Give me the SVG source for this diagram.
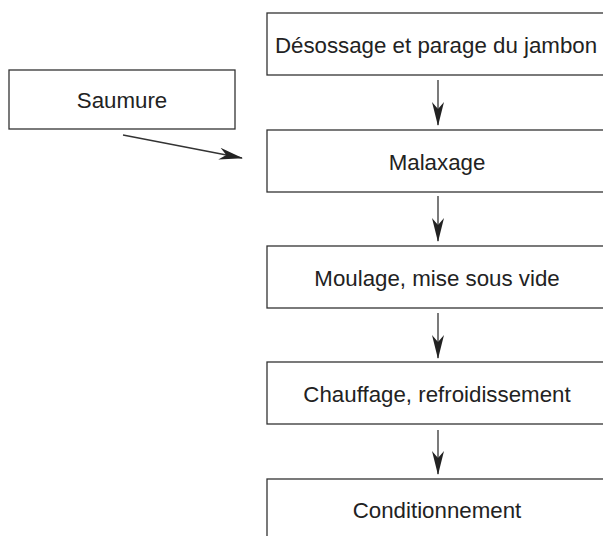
<svg xmlns="http://www.w3.org/2000/svg" width="603" height="536" viewBox="0 0 603 536">
<style>
.box{fill:#fff;stroke:#333;stroke-width:1.3}
.t{font-family:"Liberation Sans",Arial,sans-serif;font-size:23px;fill:#222;text-anchor:middle}
.c{stroke:#333;stroke-width:1.3;fill:none;marker-end:url(#ah)}
</style>
<defs>
<marker id="ah" viewBox="0 0 24 13" refX="23" refY="6.5" markerWidth="24" markerHeight="13" markerUnits="userSpaceOnUse" orient="auto">
<path d="M0,0.5 L24,6.5 L0,12.5 L7,6.5 Z" fill="#222"/>
</marker>
</defs>
<rect width="603" height="536" fill="#fff"/>
<g id="desossage"><rect class="box" x="267" y="13" width="345" height="62"/><text class="t" transform="translate(436,53) scale(0.97,1)">Désossage et parage du jambon</text></g>
<g id="saumure"><rect class="box" x="9" y="70" width="226" height="59"/><text class="t" transform="translate(122,108) scale(0.97,1)">Saumure</text></g>
<g id="malaxage"><rect class="box" x="267" y="130" width="345" height="62"/><text class="t" transform="translate(437,169.5) scale(0.97,1)">Malaxage</text></g>
<g id="moulage"><rect class="box" x="267" y="246" width="345" height="62"/><text class="t" transform="translate(437,285.5) scale(0.97,1)">Moulage, mise sous vide</text></g>
<g id="chauffage"><rect class="box" x="267" y="362" width="345" height="62"/><text class="t" transform="translate(437,401.5) scale(0.97,1)">Chauffage, refroidissement</text></g>
<g id="conditionnement"><rect class="box" x="267" y="479" width="345" height="70"/><text class="t" transform="translate(437,518) scale(0.97,1)">Conditionnement</text></g>
<g id="connectors">
<line class="c" x1="438" y1="80" x2="438" y2="125"/>
<line class="c" x1="438" y1="196" x2="438" y2="241"/>
<line class="c" x1="438" y1="313" x2="438" y2="358"/>
<line class="c" x1="438" y1="430" x2="438" y2="474"/>
<line class="c" x1="123" y1="135" x2="242" y2="158"/>
</g>
</svg>
